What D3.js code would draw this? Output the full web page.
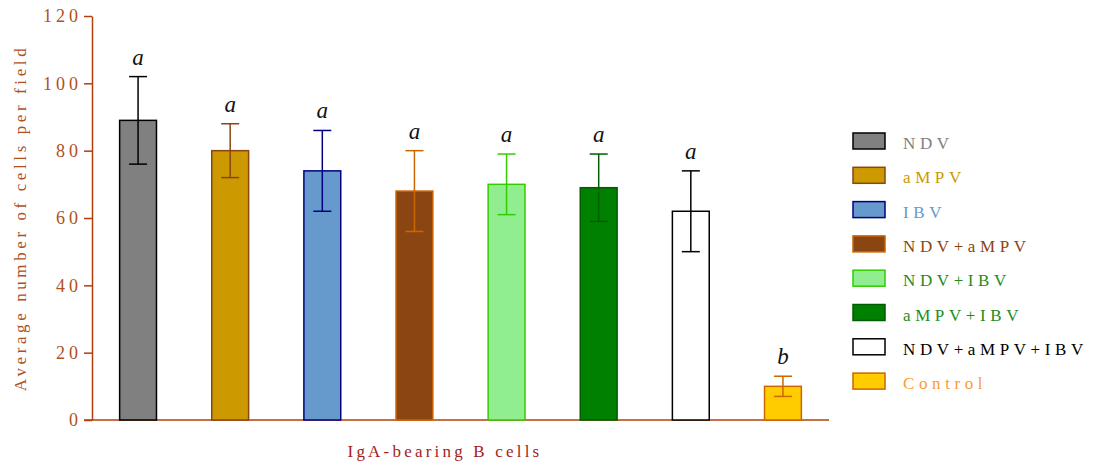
<!DOCTYPE html>
<html>
<head>
<meta charset="utf-8">
<script src="https://cdn.jsdelivr.net/npm/d3@7"></script>
<style>
  html, body { margin: 0; padding: 0; background: #fff; }
  svg text { font-family: 'Liberation Serif', 'Times New Roman', Times, serif !important; }
</style>
</head>
<body>
<svg id="chart" width="1096" height="465"></svg>
<script>
// Groups, means, SD and significance letters
const groups  = ["NDV", "aMPV", "IBV", "NDV+aMPV", "NDV+IBV", "aMPV+IBV", "NDV+aMPV+IBV", "Control"];
const means   = [89, 80, 74, 68, 70, 69, 62, 10];
const errors  = [13, 8, 12, 12, 9, 10, 12, 3];
const letters = ["a", "a", "a", "a", "a", "a", "a", "b"];
const yTicks  = [0, 20, 40, 60, 80, 100, 120];

// Styling per group
const fills      = ["#808080", "#cc9900", "#6699cc", "#8b4513", "#90ee90", "#008000", "#ffffff", "#ffcc00"];
const strokes    = ["#000000", "#8b4513", "#000080", "#cc6600", "#33cc00", "#005c00", "#000000", "#cc6600"];
const errColors  = ["#000000", "#8b4513", "#000080", "#cc6600", "#33cc00", "#005c00", "#000000", "#cc6600"];
const legendText = ["#808080", "#cc9900", "#6699cc", "#8b4513", "#1e8c1e", "#1e8c1e", "#000000", "#ff9933"];

const axisColor = "#b0400c";
const serif = "'Liberation Serif', 'Times New Roman', serif";
const svg = d3.select("#chart");

const x = d3.scaleBand().domain(groups).range([92, 829]).paddingInner(0.6).paddingOuter(0.3);
const y = d3.scaleLinear().domain([0, 120]).range([420, 16]);

// Y axis
const yAxis = svg.append("g")
  .attr("transform", "translate(92,0)")
  .call(d3.axisLeft(y).tickValues(yTicks).tickSize(8).tickSizeOuter(0).tickPadding(6));
yAxis.attr("font-family", serif);
yAxis.select(".domain").attr("stroke", axisColor).attr("stroke-width", 1.5);
yAxis.selectAll(".tick line").attr("stroke", axisColor).attr("stroke-width", 1.5);
yAxis.selectAll(".tick text")
  .attr("fill", "#b0501e")
  .style("font-size", "18px")
  .style("letter-spacing", "4px")
  .attr("dx", "4px");

// X axis baseline
const xAxis = svg.append("g")
  .attr("transform", "translate(0,420)")
  .call(d3.axisBottom(x).tickSize(0).tickSizeOuter(0).tickFormat(""));
xAxis.select(".domain").attr("stroke", axisColor).attr("stroke-width", 1.5)
  .attr("d", `M84,0H${x.range()[1]}`);

// Bars
const idx = d3.range(groups.length);
svg.append("g").selectAll("rect")
  .data(idx).join("rect")
  .attr("x", i => x(groups[i]))
  .attr("y", i => y(means[i]))
  .attr("width", x.bandwidth())
  .attr("height", i => y(0) - y(means[i]))
  .attr("fill", i => fills[i])
  .attr("stroke", i => strokes[i])
  .attr("stroke-width", 1.5);

// Error bars (upper and lower whiskers)
const cap = 9;
const eb = svg.append("g").selectAll("g").data(idx).join("g")
  .attr("stroke", i => errColors[i]).attr("stroke-width", 1.5);
eb.append("line")
  .attr("x1", i => x(groups[i]) + x.bandwidth() / 2)
  .attr("x2", i => x(groups[i]) + x.bandwidth() / 2)
  .attr("y1", i => y(means[i] + errors[i]))
  .attr("y2", i => y(means[i] - errors[i]));
eb.append("line")
  .attr("x1", i => x(groups[i]) + x.bandwidth() / 2 - cap)
  .attr("x2", i => x(groups[i]) + x.bandwidth() / 2 + cap)
  .attr("y1", i => y(means[i] + errors[i]))
  .attr("y2", i => y(means[i] + errors[i]));
eb.append("line")
  .attr("x1", i => x(groups[i]) + x.bandwidth() / 2 - cap)
  .attr("x2", i => x(groups[i]) + x.bandwidth() / 2 + cap)
  .attr("y1", i => y(means[i] - errors[i]))
  .attr("y2", i => y(means[i] - errors[i]));

// Significance letters
svg.append("g").selectAll("text").data(idx).join("text")
  .attr("x", i => x(groups[i]) + x.bandwidth() / 2)
  .attr("y", i => y(means[i] + errors[i]) - 12)
  .attr("text-anchor", "middle")
  .attr("fill", "#111")
  .style("font-style", "italic")
  .style("font-size", "23px")
  .text(i => letters[i]);

// Axis titles
svg.append("text")
  .attr("transform", "translate(26,218) rotate(-90)")
  .attr("text-anchor", "middle")
  .attr("fill", "#b0501e")
  .style("font-size", "17px")
  .style("letter-spacing", "3.6px")
  .text("Average number of cells  per field");

svg.append("text")
  .attr("x", 445)
  .attr("y", 457)
  .attr("text-anchor", "middle")
  .attr("fill", "#a51c1c")
  .style("font-size", "17px")
  .style("letter-spacing", "3.2px")
  .text("IgA-bearing B cells");

// Legend
const lg = svg.append("g").selectAll("g").data(idx).join("g")
  .attr("transform", i => `translate(853,${133 + i * 34.3})`);
lg.append("rect")
  .attr("width", 32).attr("height", 16)
  .attr("fill", i => fills[i])
  .attr("stroke", i => strokes[i])
  .attr("stroke-width", 1.5);
lg.append("text")
  .attr("x", 50).attr("y", 16)
  .attr("fill", i => legendText[i])
  .style("font-size", "17px")
  .style("letter-spacing", "4.6px")
  .text(i => groups[i]);
</script>
</body>
</html>
